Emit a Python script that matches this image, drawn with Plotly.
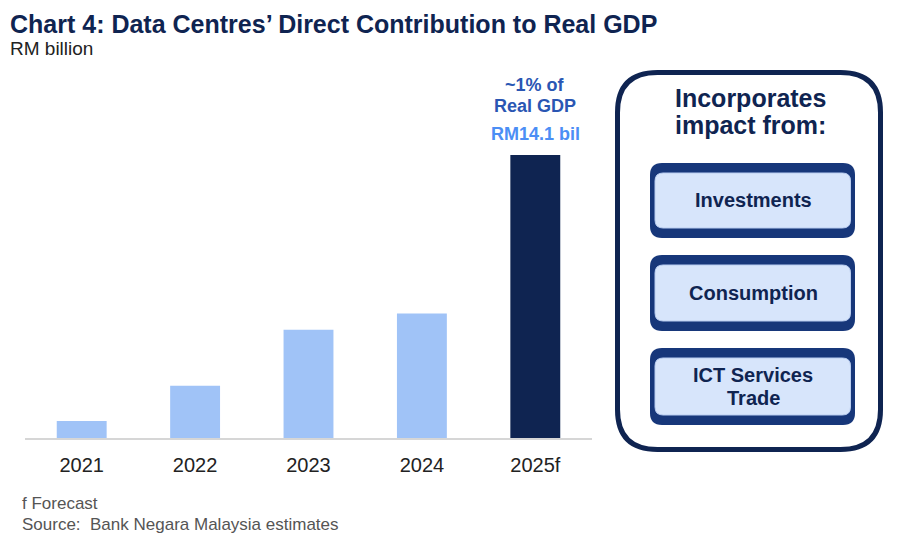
import plotly.graph_objects as go

years = ["2021", "2022", "2023", "2024", "2025f"]
values = [0.85, 2.6, 5.4, 6.2, 14.1]
bar_colors = ["#a0c3f7", "#a0c3f7", "#a0c3f7", "#a0c3f7", "#0f2451"]
panel_title = ["Incorporates", "impact from:"]
panel_items = [["Investments"], ["Consumption"], ["ICT Services", "Trade"]]

# page offset of the plot div (browser body margin)
OFF = 8
W, H = 897 - OFF, 548 - OFF
# plot area in page pixels: x 25..592, y 137..438
PX0, PX1, PY0, PY1 = 25, 592, 137, 438
L, R = PX0 - OFF, W - (PX1 - OFF)
T, B = PY0 - OFF, H - (PY1 - OFF)
PW, PH = PX1 - PX0, PY1 - PY0

NAVY = "#0f2451"
BOXNAVY = "#17377a"
FONT = "Liberation Sans, Arial, sans-serif"


def px(x):
    return (x - PX0) / PW


def py(y):
    return (PY1 - y) / PH


def rrect(x0, y0, x1, y1, r):
    return (f"M {px(x0 + r)} {py(y0)} L {px(x1 - r)} {py(y0)} "
            f"Q {px(x1)} {py(y0)} {px(x1)} {py(y0 + r)} "
            f"L {px(x1)} {py(y1 - r)} Q {px(x1)} {py(y1)} {px(x1 - r)} {py(y1)} "
            f"L {px(x0 + r)} {py(y1)} Q {px(x0)} {py(y1)} {px(x0)} {py(y1 - r)} "
            f"L {px(x0)} {py(y0 + r)} Q {px(x0)} {py(y0)} {px(x0 + r)} {py(y0)} Z")


fig = go.Figure(go.Bar(
    x=years, y=values, marker=dict(color=bar_colors, line=dict(width=0)),
    width=0.44, hoverinfo="skip",
))

shapes = []
shapes.append(dict(type="path", xref="paper", yref="paper",
                   path=rrect(617.5, 72.5, 880.5, 449.5, 40),
                   line=dict(color=NAVY, width=5), fillcolor="white", layer="above"))
boxes = [(163, 238, 173, 228), (255, 331, 265, 321), (348, 425, 358, 415)]
for (y0, y1, i0, i1) in boxes:
    shapes.append(dict(type="path", xref="paper", yref="paper",
                       path=rrect(650, y0, 855, y1, 12),
                       line=dict(width=0), fillcolor=BOXNAVY, layer="above"))
    shapes.append(dict(type="path", xref="paper", yref="paper",
                       path=rrect(655, i0, 850.5, i1, 8),
                       line=dict(color="#b9cdf0", width=1), fillcolor="#d7e5fb", layer="above"))

ann = []


def text(x, y, s, size, color, anchor="center", bold=False, family=FONT):
    ann.append(dict(xref="paper", yref="paper", x=px(x), y=py(y), xanchor=anchor, yanchor="middle",
                    text=f"<b>{s}</b>" if bold else s, showarrow=False,
                    font=dict(family=family, size=size, color=color)))


text(OFF, 24.5, "Chart 4: Data Centres’ Direct Contribution to Real GDP", 25, NAVY, "left", True)
text(OFF, 48.5, "RM billion", 19, "#222222", "left")

# bar annotations anchored to the data
ann.append(dict(x=years[0], y=values[0], yshift=26, yanchor="middle", text="<b>RM0.9 bil</b>",
                showarrow=False, font=dict(family=FONT, size=18, color="#4b8ef5")))
ann.append(dict(x=years[4], y=values[4], yshift=21, yanchor="middle", text="<b>RM14.1 bil</b>",
                showarrow=False, font=dict(family=FONT, size=18, color="#4b8ef5")))
ann.append(dict(x=years[4], y=values[4], yshift=49, yanchor="middle", text="<b>Real GDP</b>",
                showarrow=False, font=dict(family=FONT, size=18, color="#2a56b3")))
ann.append(dict(x=years[4], y=values[4], yshift=70, yanchor="middle", text="<b>~1% of</b>",
                showarrow=False, font=dict(family=FONT, size=18, color="#2a56b3")))

# panel text
text(750, 97.5, panel_title[0], 25, NAVY, bold=True)
text(750, 125, panel_title[1], 25, NAVY, bold=True)
for lines, (y0, y1, i0, i1) in zip(panel_items, boxes):
    mid = (y0 + y1) / 2 - 0.5
    n = len(lines)
    for k, ln in enumerate(lines):
        text(753, mid + (k - (n - 1) / 2) * 23, ln, 20, NAVY, bold=True)

text(20, 503, "f Forecast", 17, "#555555", "left")
text(20, 524, "Source:  Bank Negara Malaysia estimates", 17, "#555555", "left")

fig.update_layout(
    width=W, height=H, margin=dict(l=L, r=R, t=T, b=B),
    paper_bgcolor="white", plot_bgcolor="white", showlegend=False,
    xaxis=dict(range=[-0.5, 4.5], showgrid=False, zeroline=False,
               showline=True, linecolor="#d6d6d6", linewidth=2, ticks="",
               tickfont=dict(family=FONT, size=20, color="#222222"), ticklabelstandoff=8),
    yaxis=dict(range=[0, 15], visible=False),
    shapes=shapes, annotations=ann,
)

fig.write_html("out.html")
